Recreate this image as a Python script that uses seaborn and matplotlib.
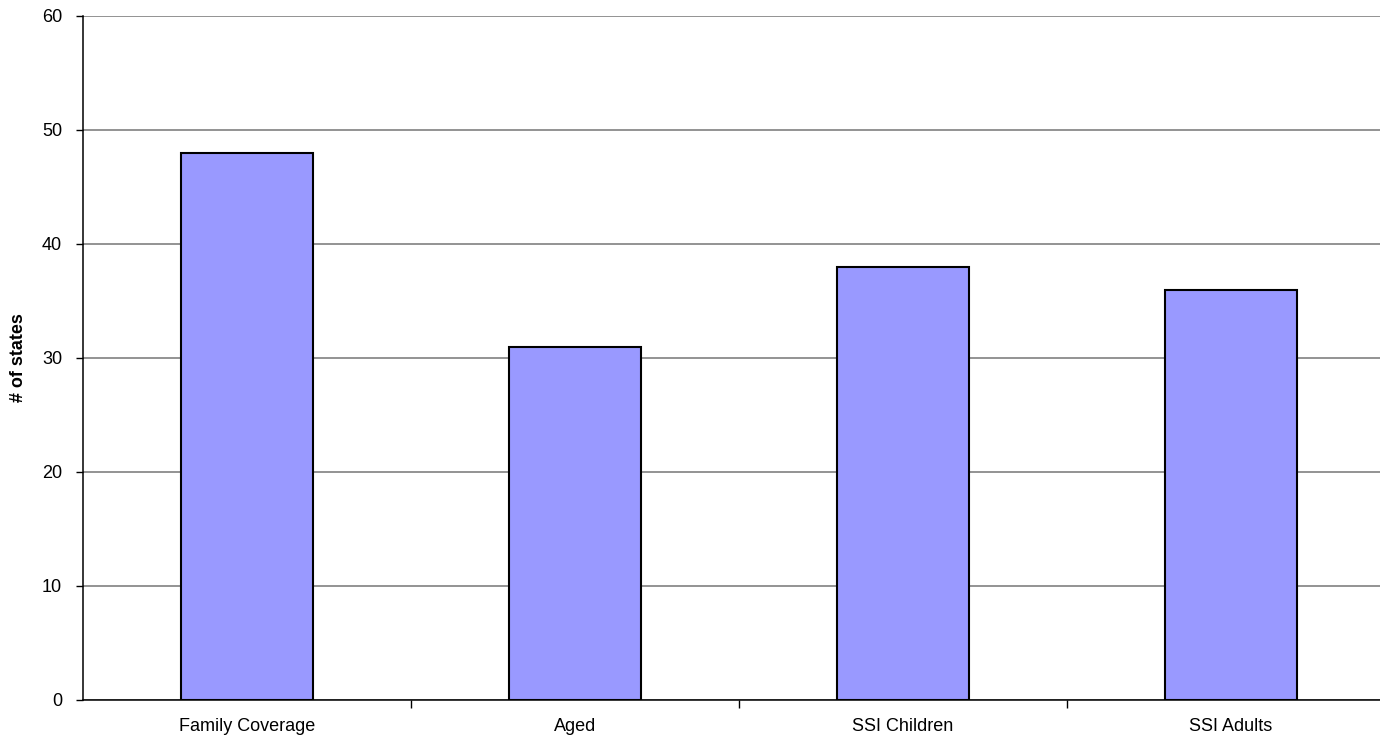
import matplotlib
matplotlib.use("Agg")
import matplotlib.pyplot as plt
import seaborn as sns
import pandas as pd

# chart data
categories = ["Family Coverage", "Aged", "SSI Children", "SSI Adults"]
num_states = [48, 31, 38, 36]
y_ticks = [0, 10, 20, 30, 40, 50, 60]

sns.set_theme(style="white")
plt.rcParams['font.family'] = ['Liberation Sans', 'DejaVu Sans']
plt.rcParams['text.color'] = 'black'
plt.rcParams['axes.labelcolor'] = 'black'
plt.rcParams['xtick.color'] = 'black'
plt.rcParams['ytick.color'] = 'black'

df = pd.DataFrame({"category": categories, "states": num_states})

fig = plt.figure(figsize=(13.8, 7.37), dpi=100)
ax = fig.add_axes([83 / 1380, 37 / 737, 1312 / 1380, 684 / 737])

sns.barplot(data=df, x="category", y="states", ax=ax, width=0.4,
            color="#9999FF", saturation=1, edgecolor="black", linewidth=1.5)

ax.set_xlim(-0.5, len(categories) - 0.5)
ax.set_ylim(0, 60)
ax.set_yticks(y_ticks)
ax.yaxis.grid(True, color="#808080", linewidth=1.2)
ax.set_axisbelow(True)

for side in ["top", "right"]:
    ax.spines[side].set_visible(False)
for side in ["left", "bottom"]:
    ax.spines[side].set_color("black")
    ax.spines[side].set_linewidth(1.1)

# category separators on the x axis
ax.set_xticks([i + 0.5 for i in range(len(categories) - 1)], minor=True)
ax.tick_params(axis="x", which="minor", length=6, width=1, color="black", direction="out", bottom=True)
ax.tick_params(axis="x", which="major", length=0, labelsize=13, pad=13, labelcolor="black")
ax.tick_params(axis="y", which="major", length=5, width=1, color="black", direction="out", left=True,
               labelsize=13, pad=10, labelcolor="black")

ax.set_xlabel("")
ax.set_ylabel("# of states", fontsize=13, fontweight="bold", labelpad=11, color="black")

fig.savefig("out.png", dpi=100)
